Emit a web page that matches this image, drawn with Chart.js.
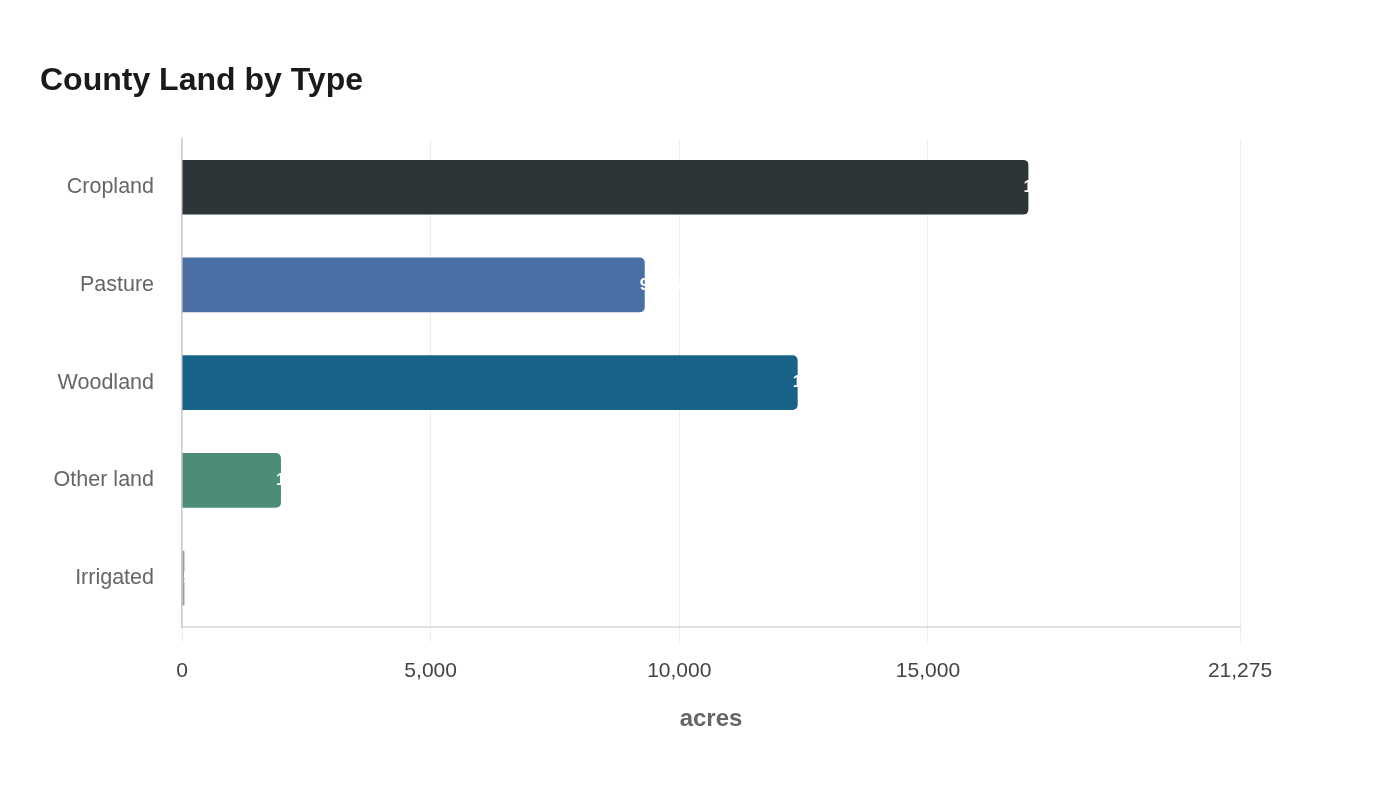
<!DOCTYPE html>
<html>
<head>
<meta charset="utf-8">
<script src="https://cdn.jsdelivr.net/npm/chart.js@4.4.1/dist/chart.umd.min.js"></script>
<style>
  html, body { margin: 0; padding: 0; background: #fff; }
  #wrap { width: 1400px; height: 800px; }
</style>
</head>
<body>
<div id="wrap"><canvas id="landChart"></canvas></div>
<script>
// data
const landTypes = ["Cropland", "Pasture", "Woodland", "Other land", "Irrigated"];
const acres = [17020, 9305, 12380, 1990, 50];
const barColors = ["#2e3538", "#4a6fa5", "#186288", "#4e8c7a", "#9e9e9e"];
const xTicks = [0, 5000, 10000, 15000, 21275];
const xMax = 21275;

Chart.defaults.font.family = "'Liberation Sans', Arial, sans-serif";

// white value labels starting just inside the end of each bar
const valueLabels = {
  id: "valueLabels",
  afterDatasetsDraw(chart) {
    const ctx = chart.ctx;
    const area = chart.chartArea;
    const meta = chart.getDatasetMeta(0);
    ctx.save();
    ctx.font = "bold 17px 'Liberation Sans', Arial, sans-serif";
    ctx.fillStyle = "#ffffff";
    ctx.textAlign = "left";
    ctx.textBaseline = "middle";
    meta.data.forEach((bar, i) => {
      const x = Math.max(bar.x - 5, area.left + 1);
      ctx.fillText(acres[i].toLocaleString("en-US"), x, bar.y);
    });
    ctx.restore();
  }
};

new Chart(document.getElementById("landChart"), {
  type: "bar",
  data: {
    labels: landTypes,
    datasets: [{
      data: acres,
      backgroundColor: barColors,
      borderRadius: 5,
      barPercentage: 0.7,
      categoryPercentage: 0.8
    }]
  },
  options: {
    indexAxis: "y",
    responsive: true,
    maintainAspectRatio: false,
    animation: false,
    layout: { padding: { left: 40, right: 160, top: 42, bottom: 66 } },
    plugins: {
      legend: { display: false },
      tooltip: { enabled: false },
      title: {
        display: true,
        text: "County Land by Type",
        align: "start",
        color: "#1a1a1a",
        font: { size: 32, weight: "bold" },
        padding: { top: 20, bottom: 38 }
      }
    },
    scales: {
      x: {
        min: 0,
        max: xMax,
        afterBuildTicks(scale) {
          scale.ticks = xTicks.map(v => ({ value: v }));
        },
        ticks: {
          color: "#444",
          font: { size: 21 },
          padding: 17,
          maxRotation: 0,
          callback: v => Number(v).toLocaleString("en-US")
        },
        grid: { color: "#eeeeee", lineWidth: 1, tickLength: 15 },
        border: { color: "#e0e0e0", width: 2 },
        title: {
          display: true,
          text: "acres",
          color: "#666",
          font: { size: 24, weight: "bold" },
          padding: { top: 4, bottom: 0 }
        }
      },
      y: {
        afterFit(scale) { scale.width = 142; },
        ticks: { color: "#666", font: { size: 21.5 }, padding: 28 },
        grid: { display: false, drawTicks: false },
        border: { color: "#cccccc", width: 1.5 }
      }
    }
  },
  plugins: [valueLabels]
});
</script>
</body>
</html>
